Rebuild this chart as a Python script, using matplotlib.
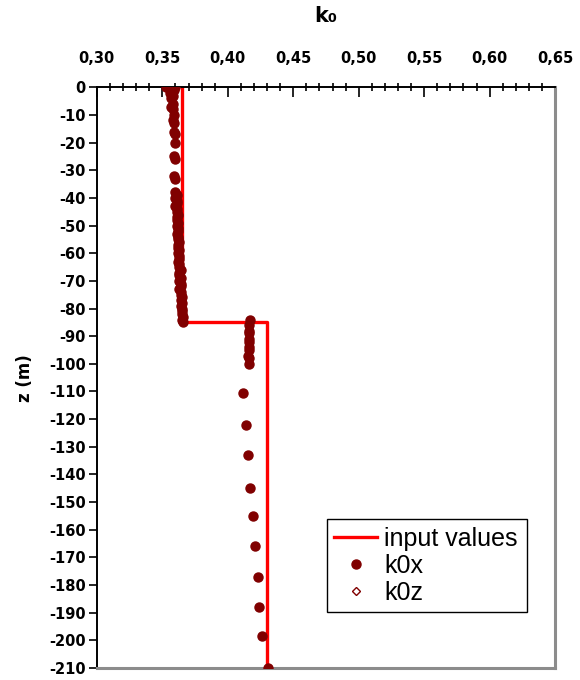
#!/usr/bin/env python3
"""k0 profile over depth: input values vs computed k0x / k0z."""
import matplotlib
matplotlib.use("Agg")
import matplotlib.pyplot as plt
from matplotlib.ticker import MultipleLocator, FuncFormatter

plt.rcParams["axes.unicode_minus"] = False

# input values (step profile)
input_k0 = [0.365, 0.365, 0.430, 0.430]
input_z = [0, -85, -85, -210]

# computed k0x
k0x_z = [0, 0, 0, -1, -2, -3, -4, -6, -7, -8, -10, -12, -13, -16, -17,
         -20, -25, -26, -32, -33,
         -38, -39, -40, -41, -42, -43, -44, -45, -46, -47, -48, -49, -50,
         -51, -52, -53, -54, -55, -56, -57, -58, -59, -60, -61, -62, -63,
         -64, -65, -66, -67, -68, -69, -70, -71, -72, -73, -74, -75, -76,
         -77, -78, -79, -80, -81, -82, -83, -84, -85,
         -84, -86, -88, -89, -91, -92, -94, -95, -97, -98, -100,
         -110.5, -122, -133, -145, -155, -166, -177, -188, -198.5, -210]
k0x = [0.353, 0.357, 0.360, 0.359, 0.356, 0.358, 0.357, 0.358, 0.357,
       0.358, 0.359, 0.358, 0.359, 0.359, 0.360,
       0.360, 0.359, 0.360, 0.359, 0.360,
       0.360, 0.361, 0.360, 0.361, 0.361, 0.360, 0.361, 0.361, 0.362,
       0.361, 0.361, 0.362, 0.361, 0.362, 0.362, 0.361, 0.362, 0.362,
       0.363, 0.362, 0.362, 0.363, 0.362, 0.363, 0.363, 0.362, 0.363,
       0.363, 0.364, 0.363, 0.363, 0.364, 0.363, 0.364, 0.364, 0.363,
       0.364, 0.364, 0.365, 0.364, 0.365, 0.364, 0.365, 0.365, 0.365,
       0.366, 0.365, 0.366,
       0.417, 0.416, 0.4165, 0.416, 0.4165, 0.416, 0.4165, 0.416, 0.4155,
       0.416, 0.416,
       0.412, 0.414, 0.4155, 0.417, 0.419, 0.421, 0.423, 0.424, 0.426, 0.431]

# computed k0z (sits under the k0x markers)
k0z_z = list(k0x_z)
k0z = list(k0x)

DARK = "#800000"
GREY = "#8c8c8c"

fig = plt.figure(figsize=(5.8, 6.8), dpi=100)
ax = fig.add_axes([0.167, 0.0176, 0.790, 0.854])

ax.plot(input_k0, input_z, color="#ff0000", linewidth=2.4, label="input values", zorder=2)
ax.plot(k0x, k0x_z, linestyle="none", marker="o", markersize=6.5,
        color=DARK, label="k0x", zorder=4)
ax.plot(k0z, k0z_z, linestyle="none", marker="D", markersize=4,
        markerfacecolor="white", markeredgecolor=DARK, label="k0z", zorder=3)

ax.set_xlim(0.30, 0.65)
ax.set_ylim(-210, 0)

ax.xaxis.tick_top()
ax.xaxis.set_label_position("top")
ax.xaxis.set_major_locator(MultipleLocator(0.05))
ax.xaxis.set_minor_locator(MultipleLocator(0.01))
ax.xaxis.set_major_formatter(FuncFormatter(lambda v, p: f"{v:.2f}".replace(".", ",")))
ax.yaxis.set_major_locator(MultipleLocator(10))

ax.tick_params(axis="x", which="major", direction="in", length=7, width=1.2,
               pad=15, labelsize=10.5)
ax.tick_params(axis="x", which="minor", direction="inout", length=6, width=1.2)
ax.tick_params(axis="y", which="major", direction="out", length=6, width=1.2,
               pad=2, labelsize=10.5)
for lab in ax.get_xticklabels() + ax.get_yticklabels():
    lab.set_fontweight("bold")
    lab.set_family("DejaVu Sans")

ax.set_xlabel("k₀", fontsize=15, fontweight="bold", labelpad=21)
ax.set_ylabel("z (m)", fontsize=12, fontweight="bold", labelpad=11)

ax.spines["top"].set_color("black")
ax.spines["left"].set_color("black")
ax.spines["top"].set_linewidth(1.4)
ax.spines["left"].set_linewidth(1.4)
ax.spines["right"].set_color(GREY)
ax.spines["bottom"].set_color(GREY)
ax.spines["right"].set_linewidth(2.2)
ax.spines["bottom"].set_linewidth(2.2)

leg = ax.legend(loc="lower left", bbox_to_anchor=(0.502, 0.096, 0.437, 0.162),
                mode="expand", frameon=True, fancybox=False, framealpha=1,
                edgecolor="black", prop={"family": "Liberation Sans", "size": 18},
                handlelength=1.7, handletextpad=0.3, labelspacing=0.12,
                borderpad=0.3, borderaxespad=0)
leg.get_frame().set_linewidth(1.0)

fig.savefig("out.png", dpi=100, facecolor="white")
